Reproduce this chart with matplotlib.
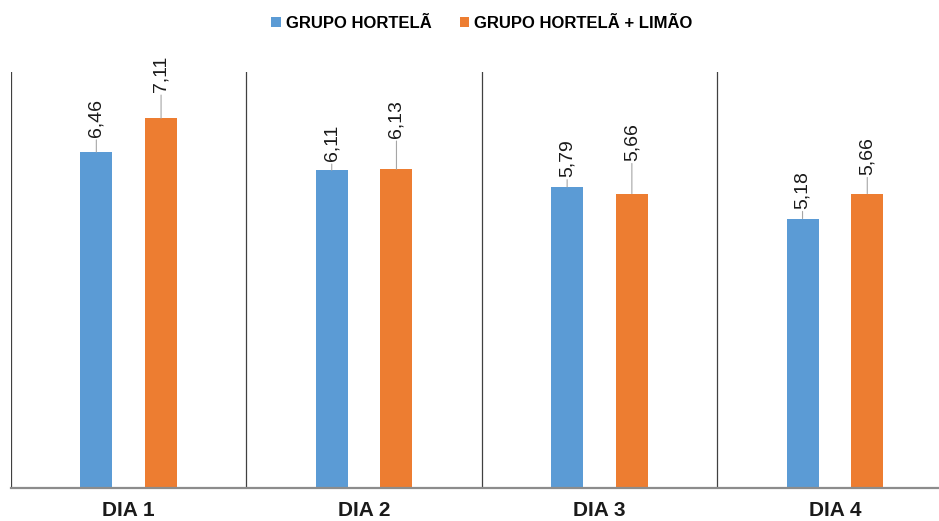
import matplotlib
matplotlib.use('Agg')
import matplotlib.pyplot as plt
import numpy as np

# data
categorias = ['DIA 1', 'DIA 2', 'DIA 3', 'DIA 4']
hortela = [6.46, 6.11, 5.79, 5.18]
hortela_limao = [7.11, 6.13, 5.66, 5.66]
series_nomes = ['GRUPO HORTELÃ', 'GRUPO HORTELÃ + LIMÃO']

# leader line lengths for labels (pixels)
off_azul = [15, 9, 10, 10]
off_laranja = [26, 31, 33, 19]

azul = '#5b9bd5'
laranja = '#ed7d31'

plt.rcParams['font.family'] = ['Liberation Sans', 'DejaVu Sans']

fig = plt.figure(figsize=(9.39, 5.21), dpi=100)
ax = fig.add_axes([11/939, 33/521, 941.6/939, 416/521])

x = np.arange(len(categorias))
w = 0.136
d = 0.1375
ax.bar(x - d, hortela, w, color=azul, label=series_nomes[0], zorder=2)
ax.bar(x + d, hortela_limao, w, color=laranja, label=series_nomes[1], zorder=2)

def rotulos(xs, vals, offs):
    for xi, v, o in zip(xs, vals, offs):
        pts = o / 100 * 72
        ax.annotate(f'{v:.2f}'.replace('.', ','), xy=(xi, v), xytext=(0, pts),
                    textcoords='offset points', rotation=90, ha='center', va='bottom',
                    fontsize=14, color='#1a1a1a',
                    arrowprops=dict(arrowstyle='-', color='#a6a6a6', lw=0.8,
                                    shrinkA=0, shrinkB=0))

rotulos(x - d, hortela, off_azul)
rotulos(x + d, hortela_limao, off_laranja)

ax.set_xlim(-0.5, len(categorias) - 0.5)
ax.set_ylim(0, 8)
for sep in np.arange(len(categorias) + 1) - 0.5:
    ax.axvline(sep, color='#404040', lw=0.9, zorder=1)

for s in ['top', 'right', 'left']:
    ax.spines[s].set_visible(False)
ax.spines['bottom'].set_color('#8c8c8c')
ax.spines['bottom'].set_linewidth(1.6)
ax.set_yticks([])
ax.set_xticks(x)
ax.set_xticklabels(categorias, fontsize=15, fontweight='bold', color='#1a1a1a')
ax.tick_params(axis='x', length=0, pad=9)

ax.legend(loc='upper center', bbox_to_anchor=(0.5, 1.17), ncol=2, frameon=False,
          handlelength=0.55, handleheight=0.55, handletextpad=0.3, columnspacing=1.7,
          prop={'weight': 'bold', 'size': 12})

fig.savefig('out.png', dpi=100)
